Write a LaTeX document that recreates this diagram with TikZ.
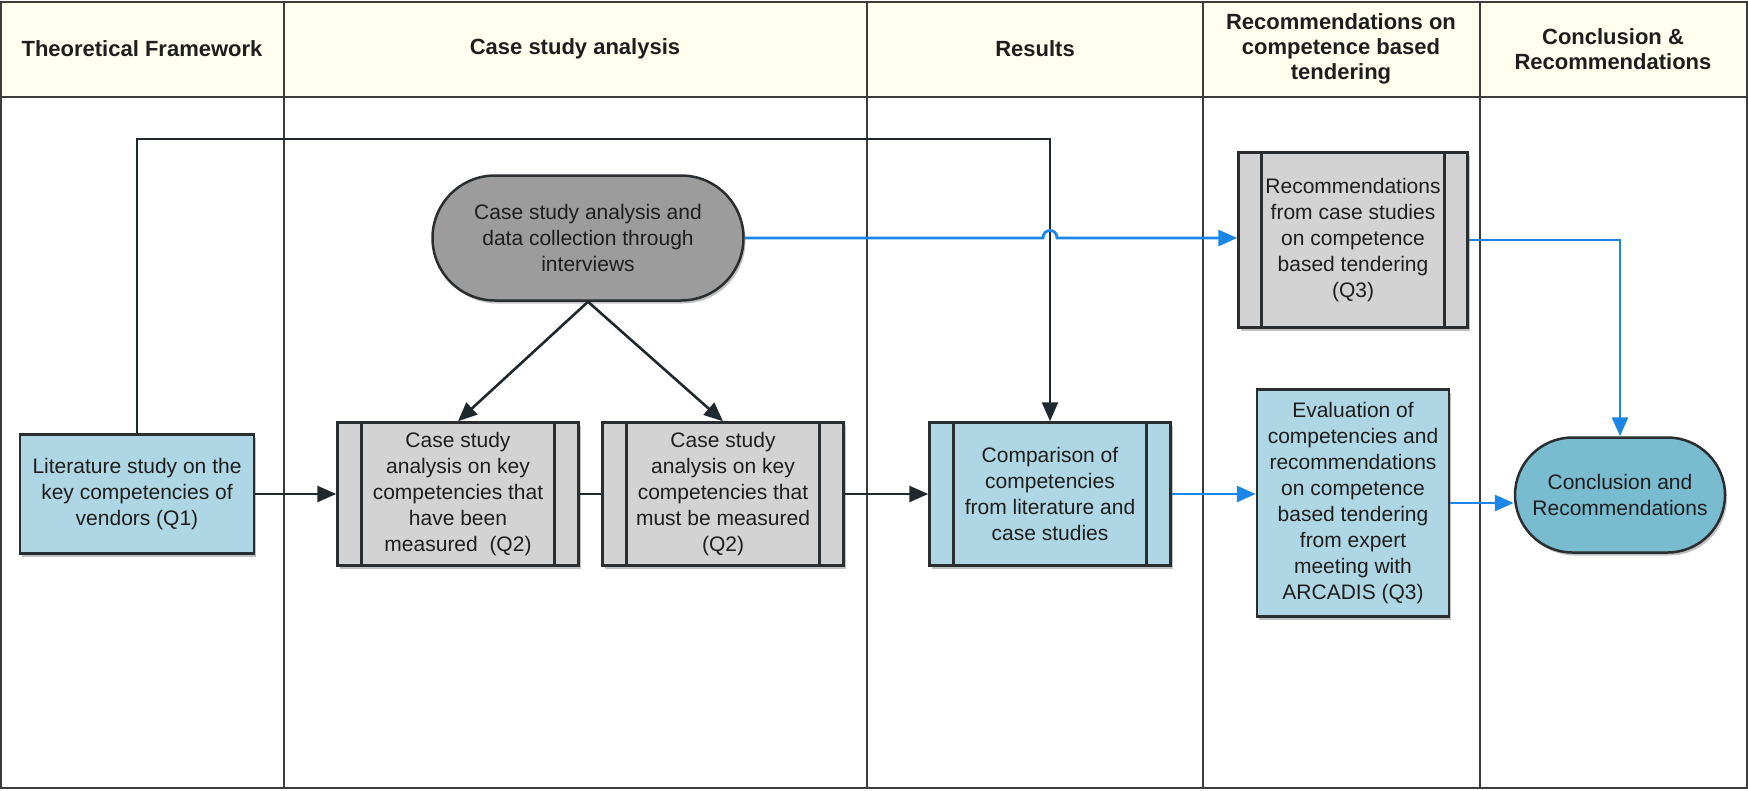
\documentclass[tikz,border=0pt]{standalone}
\usepackage{fontspec}
\setmainfont{Liberation Sans}
\usetikzlibrary{arrows.meta,shadows,shapes.misc,calc}

\definecolor{headfill}{HTML}{FFFFF0}
\definecolor{laneline}{HTML}{3C3C3C}
\definecolor{edge}{HTML}{2A2E30}
\definecolor{txt}{HTML}{1E1E1E}
\definecolor{lightblue}{HTML}{AFD6E4}
\definecolor{lightgray}{HTML}{D3D3D3}
\definecolor{darkgray}{HTML}{9C9C9C}
\definecolor{teal}{HTML}{79BBCF}
\definecolor{flowblue}{HTML}{1C86E6}
\definecolor{flowblack}{HTML}{1F282D}

\begin{document}
\begin{tikzpicture}[x=1pt,y=-1pt,
  lane/.style={draw=laneline,line width=2.4pt},
  headtext/.style={font=\bfseries\fontsize{22}{25}\selectfont,text=txt,align=center},
  box/.style={draw=edge,line width=2.5pt,align=center,inner sep=0pt,text=txt,
    font=\fontsize{21}{26}\selectfont,
    drop shadow={shadow xshift=2pt,shadow yshift=-3pt,opacity=.4,fill=black!60}},
  sidebars/.style={path picture={
    \draw[edge,line width=2.5pt]
      ([xshift=#1]path picture bounding box.north west) --
      ([xshift=#1]path picture bounding box.south west)
      ([xshift=-#1]path picture bounding box.north east) --
      ([xshift=-#1]path picture bounding box.south east);}},
  blk/.style={draw=flowblack,line width=2.6pt},
  blkarrow/.style={blk,-{Triangle[length=19pt,width=16pt]}},
  blu/.style={draw=flowblue,line width=2.8pt},
  bluarrow/.style={blu,-{Triangle[length=19pt,width=16pt]}}
]
\useasboundingbox (0,0) rectangle (1748,790);
\fill[white] (0,0) rectangle (1748,790);

% swim lanes with header row
\fill[headfill] (1,2) rectangle (1747,97);
\draw[lane] (1,2) rectangle (1747,788);
\draw[lane] (1,97) -- (1747,97);
\foreach \x in {284,867,1203,1480} \draw[lane] (\x,2) -- (\x,788);

\node[headtext] (h1) at (142,49) {Theoretical Framework};
\node[headtext] (h2) at (575,49) {Case study analysis};
\node[headtext] (h3) at (1035,49) {Results};
\node[headtext] (h4) at (1341,49) {Recommendations on\\competence based\\tendering};
\node[headtext] (h5) at (1613,49) {Conclusion \&\\Recommendations};

% process steps
\node[box,fill=lightblue,minimum width=234pt,minimum height=119pt] (lit) at (137,494)
  {Literature study on the\\key competencies of\\vendors (Q1)};
\node[box,fill=darkgray,rounded rectangle,minimum width=311pt,minimum height=125pt] (coll) at (588,238)
  {Case study analysis and\\data collection through\\interviews};
\node[box,fill=lightgray,sidebars=24pt,minimum width=241pt,minimum height=143pt] (cs1) at (458,494)
  {Case study\\analysis on key\\competencies that\\have been\\measured\ \ (Q2)};
\node[box,fill=lightgray,sidebars=24pt,minimum width=241pt,minimum height=143pt] (cs2) at (723,494)
  {Case study\\analysis on key\\competencies that\\must be measured\\(Q2)};
\node[box,fill=lightblue,sidebars=24pt,minimum width=241pt,minimum height=143pt] (comp) at (1050,494)
  {Comparison of\\competencies\\from literature and\\case studies};
\node[box,fill=lightgray,sidebars=23pt,minimum width=229pt,minimum height=175pt] (rec) at (1353,240)
  {Recommendations\\from case studies\\on competence\\based tendering\\(Q3)};
\node[box,fill=lightblue,minimum width=192pt,minimum height=227pt] (eval) at (1353,503)
  {Evaluation of\\competencies and\\recommendations\\on competence\\based tendering\\from expert\\meeting with\\ARCADIS (Q3)};
\node[box,fill=teal,rounded rectangle,minimum width=210pt,minimum height=115pt] (concl) at (1620,495)
  {Conclusion and\\Recommendations};

% black connectors
\coordinate (bend) at (1050,139);
\draw[blkarrow] (lit.north) |- (bend) -- (comp.north);
\draw[blkarrow] (lit.east) -- (cs1.west);
\draw[blk] (cs1.east) -- (cs2.west);
\draw[blkarrow] (cs2.east) -- (comp.west);
\draw[blkarrow] (coll.south) -- (cs1.north);
\draw[blkarrow] (coll.south) -- (cs2.north);

% blue connectors, with a hop over the black line
\coordinate (hopa) at (1043,238);
\coordinate (hopb) at (1057,238);
\draw[bluarrow] (coll.east) -- (hopa) .. controls (1043,228) and (1057,228) .. (hopb) -- (hopb -| rec.west);
\draw[bluarrow] (rec.east) -| (concl.north);
\draw[bluarrow] (comp.east) -- (comp.east -| eval.west);
\draw[bluarrow] (eval.east) -- (eval.east -| concl.west);
\end{tikzpicture}
\end{document}
